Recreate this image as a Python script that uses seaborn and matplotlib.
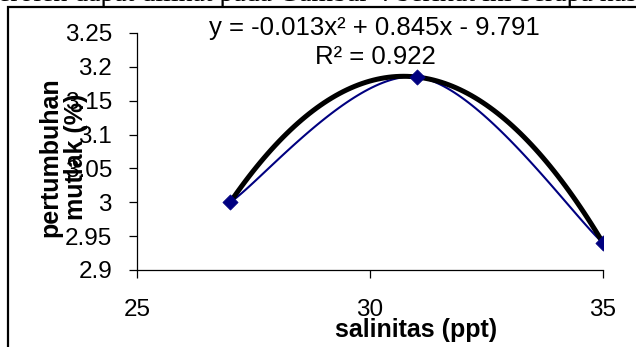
import numpy as np
import pandas as pd
import seaborn as sns
import matplotlib.pyplot as plt
from matplotlib.patches import Rectangle

# Observed growth at each salinity level
salinitas = [27, 31, 35]
pertumbuhan = [3.00, 3.185, 2.94]

x_ticks = [25, 30, 35]
y_ticks = [2.9, 2.95, 3.0, 3.05, 3.1, 3.15, 3.2, 3.25]
y_ticklabels = ["2.9", "2.95", "3", "3.05", "3.1", "3.15", "3.2", "3.25"]

persamaan = "y = -0.013x² + 0.845x - 9.791"
r_kuadrat = "R² = 0.922"
teks_atas = "eroleh dapat dilihat pada Gambar 4 berikut ini berapa has"

df = pd.DataFrame({"salinitas": salinitas, "pertumbuhan": pertumbuhan})

sns.set_theme(style="white")
plt.rcParams["font.family"] = ["Liberation Sans", "DejaVu Sans"]


def smooth_line(xs, ys, n=60):
    """Smoothed connector through the points (cubic Bezier, 1/6 tension)."""
    p = np.column_stack([xs, ys]).astype(float)
    ext = np.vstack([p[0], p, p[-1]])
    out = []
    t = np.linspace(0, 1, n)[:, None]
    for i in range(len(p) - 1):
        p0, p3 = p[i], p[i + 1]
        c1 = p0 + (ext[i + 2] - ext[i]) / 6.0
        c2 = p3 - (ext[i + 3] - ext[i + 1]) / 6.0
        seg = ((1 - t) ** 3) * p0 + 3 * ((1 - t) ** 2) * t * c1 \
            + 3 * (1 - t) * t ** 2 * c2 + t ** 3 * p3
        out.append(seg if i == 0 else seg[1:])
    out = np.vstack(out)
    return out[:, 0], out[:, 1]


fig = plt.figure(figsize=(6.36, 3.47), dpi=100)
fig.patch.set_facecolor("white")
ax = fig.add_axes([137 / 636, 1 - 270 / 347, 466 / 636, 237 / 347])
ax.set_facecolor("white")

# smoothed series line
sx, sy = smooth_line(df["salinitas"], df["pertumbuhan"])
ax.plot(sx, sy, color="#000080", lw=1.5, zorder=2)

# polynomial (order 2) trend line
sns.regplot(data=df, x="salinitas", y="pertumbuhan", order=2, ci=None,
            scatter=False, truncate=True, ax=ax,
            line_kws=dict(color="black", lw=3.6, zorder=3))

# data markers
sns.scatterplot(data=df, x="salinitas", y="pertumbuhan", marker="D", s=60,
                color="#000080", edgecolor="#000080", linewidth=0.5,
                zorder=4, ax=ax)

ax.set_xlim(25, 35)
ax.set_ylim(2.9, 3.25)
ax.set_xticks(x_ticks)
ax.set_xticklabels([str(v) for v in x_ticks])
ax.set_yticks(y_ticks)
ax.set_yticklabels(y_ticklabels)

for side in ["top", "right"]:
    ax.spines[side].set_visible(False)
for side in ["left", "bottom"]:
    ax.spines[side].set_color("black")
    ax.spines[side].set_linewidth(0.9)

ax.tick_params(axis="both", which="major", direction="out", length=6,
               width=0.9, color="black", labelsize=17.5, labelcolor="black",
               left=True, bottom=True)
ax.tick_params(axis="x", pad=15)
ax.tick_params(axis="y", pad=12)

ax.set_xlabel("salinitas (ppt)", fontsize=18, fontweight="bold", color="black")
ax.xaxis.label.set_va("center")
ax.xaxis.set_label_coords(0.599, -0.253)

ax.set_ylabel("pertumbuhan\nmutlak (%)", fontsize=18, fontweight="bold",
              color="black", linespacing=1.1)
ax.yaxis.label.set_va("center")
ax.yaxis.set_label_coords(-0.158, 0.477)

# trend line equation and fit quality
fig.text(374 / 636, 1 - 28 / 347, persamaan, ha="center", va="center",
         fontsize=18.5, color="black")
fig.text(375 / 636, 1 - 57 / 347, r_kuadrat, ha="center", va="center",
         fontsize=18.5, color="black")

# chart frame and the running text line above it
fig.patches.append(Rectangle((8 / 636, -0.1), 1.2, 1.1 - 7 / 347,
                             transform=fig.transFigure, fill=False,
                             edgecolor="black", lw=1.6, zorder=10))
fig.text(-2 / 636, 1 - 1 / 347, teks_atas, ha="left", va="baseline",
         fontsize=20, color="black",
         family=["Liberation Serif", "DejaVu Serif"])

fig.savefig("out.png", dpi=100, facecolor="white")
